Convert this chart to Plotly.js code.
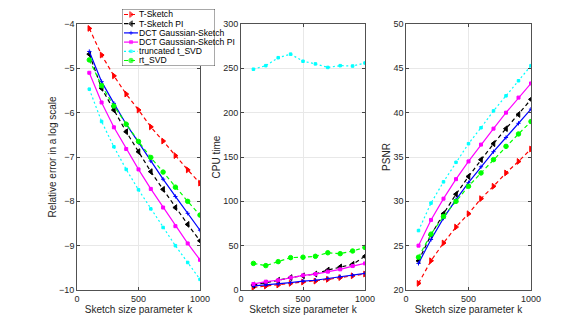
<!DOCTYPE html>
<html><head><meta charset="utf-8">
<script src="https://cdn.plot.ly/plotly-3.0.1.min.js"></script>
<style>html,body{margin:0;padding:0;background:#fff}#chart{width:587px;height:326px}</style>
</head><body><div id="chart"></div>
<script>
const k = [100,200,300,400,500,600,700,800,900,1000];
const seriesNames = ["T-Sketch","T-Sketch PI","DCT Gaussian-Sketch","DCT Gaussian-Sketch PI","truncated t_SVD","rt_SVD"];

// Panel 1: relative error (log scale)
const errTSketch   = [-4.10,-4.70,-5.17,-5.58,-5.94,-6.32,-6.64,-6.97,-7.29,-7.59];
const errTSketchPI = [-4.68,-5.45,-5.94,-6.43,-6.88,-7.33,-7.73,-8.14,-8.52,-8.89];
const errDCT       = [-4.62,-5.30,-5.79,-6.26,-6.67,-7.09,-7.50,-7.89,-8.27,-8.65];
const errDCTPI     = [-5.10,-5.77,-6.33,-6.82,-7.28,-7.72,-8.14,-8.56,-8.95,-9.32];
const errTSVD      = [-5.47,-6.20,-6.77,-7.28,-7.74,-8.17,-8.59,-9.00,-9.38,-9.76];
const errRtSVD     = [-4.81,-5.39,-5.85,-6.26,-6.65,-7.01,-7.34,-7.68,-8.00,-8.31];

// Panel 2: CPU time
const cpuTSketch   = [3.0,4.5,5.6,7.5,9.0,10.0,12.0,14.0,16.0,18.0];
const cpuTSketchPI = [5.6,8.0,11.0,14.0,16.0,18.0,22.5,26.0,29.0,38.0];
const cpuDCT       = [4.5,5.6,6.8,8.3,10.0,11.0,13.0,15.0,16.5,18.8];
const cpuDCTPI     = [6.8,9.4,11.0,14.0,16.5,18.0,20.7,23.3,27.0,30.0];
const cpuTSVD      = [249,253,262,266,258,255,251,253,252.6,256];
const cpuRtSVD     = [30,27.5,32,36.5,37,38,42,41,44,48];

// Panel 3: PSNR
const psnrTSketch   = [20.75,23.3,25.3,27.1,28.6,30.3,31.7,33.2,34.5,35.9];
const psnrTSketchPI = [23.3,26.2,28.6,30.8,32.8,34.7,36.5,38.2,39.8,41.5];
const psnrDCT       = [23.0,25.7,28.1,30.2,32.1,33.9,35.6,37.2,38.8,40.4];
const psnrDCTPI     = [25.0,27.9,30.3,32.5,34.5,36.4,38.2,40.0,41.7,43.3];
const psnrTSVD      = [26.7,29.8,32.2,34.4,36.5,38.3,40.2,41.9,43.6,45.3];
const psnrRtSVD     = [23.7,26.3,28.3,30.0,31.7,33.2,34.7,36.2,37.6,39.0];

const styles = [
  {color:"#ff0000", dash:"4px,3px", symbol:"triangle-right", size:5},
  {color:"#000000", dash:"4px,3px", symbol:"triangle-left", size:5},
  {color:"#0000ff", dash:"solid", symbol:"cross-thin-open", size:3},
  {color:"#ff00ff", dash:"solid", symbol:"square", size:3},
  {color:"#00ffff", dash:"2px,2.5px", symbol:"square", size:2.5},
  {color:"#00ff00", dash:"4px,3px", symbol:"circle", size:4.5}
];
const panels = [
  [errTSketch,errTSketchPI,errDCT,errDCTPI,errTSVD,errRtSVD],
  [cpuTSketch,cpuTSketchPI,cpuDCT,cpuDCTPI,cpuTSVD,cpuRtSVD],
  [psnrTSketch,psnrTSketchPI,psnrDCT,psnrDCTPI,psnrTSVD,psnrRtSVD]
];
const traces = [];
panels.forEach((p, pi) => {
  p.forEach((ys, si) => {
    const s = styles[si];
    traces.push({
      x: k, y: ys, type: "scatter", mode: "lines+markers", showlegend: false,
      name: seriesNames[si],
      xaxis: pi === 0 ? "x" : "x" + (pi+1), yaxis: pi === 0 ? "y" : "y" + (pi+1),
      line: {color: s.color, width: 1.2, dash: s.dash},
      marker: {color: s.color, symbol: s.symbol, size: s.size, line:{color:s.color, width:1}}
    });
  });
});

// Manual compact legend (MATLAB-style) on a hidden pixel-coordinate subplot
const W = 587, H = 326;
const LG = {l:122, r:215, t:9, b:66};
const rowStep = 9.2, rowTop = 5.5;
const annotations = [];
seriesNames.forEach((nm, si) => {
  const s = styles[si];
  const yy = rowTop + si * rowStep;
  traces.push({
    x: [2, 9, 16], y: [yy, yy, yy], type: "scatter", mode: "lines+markers", showlegend: false,
    xaxis: "x4", yaxis: "y4", hoverinfo: "skip",
    line: {color: s.color, width: 1.2, dash: s.dash},
    marker: {color: s.color, symbol: s.symbol, size: [0, s.size, 0], line:{color:s.color, width:1}}
  });
  annotations.push({xref:"x4", yref:"y4", x:15, y:yy, text:nm, showarrow:false,
    xanchor:"left", yanchor:"middle", font:{size:8.6, color:"#000"}});
});

const font = {family: "Liberation Sans, Arial, sans-serif", size: 9, color: "#262626"};
function xa(l, r) {
  return {domain:[l/W, r/W], range:[0,1000], tickvals:[0,500,1000], ticks:"inside", ticklen:3,
    showline:true, mirror:"ticks", linecolor:"#262626", linewidth:0.8, showgrid:true, gridcolor:"#e8e8e8",
    zeroline:false, tickfont:{size:9, color:"#262626"},
    title:{text:"Sketch size parameter k", font:{size:10, color:"#262626"}, standoff:1}};
}
function ya(range, dtick, anchor, title) {
  return {domain:[1-290/H, 1-24/H], range:range, dtick:dtick, tick0:range[0], ticks:"inside", ticklen:3,
    showline:true, mirror:"ticks", linecolor:"#262626", linewidth:0.8, showgrid:true, gridcolor:"#e8e8e8",
    zeroline:false, anchor:anchor, tickfont:{size:9, color:"#262626"},
    title:{text:title, font:{size:10, color:"#262626"}, standoff:0}};
}
const layout = {
  width: W, height: H, margin:{l:0, r:0, t:0, b:0}, font: font,
  paper_bgcolor:"#fff", plot_bgcolor:"rgba(0,0,0,0)", showlegend:false,
  xaxis: Object.assign(xa(77,200), {anchor:"y"}),
  xaxis2: Object.assign(xa(241,365), {anchor:"y2"}),
  xaxis3: Object.assign(xa(406,531), {anchor:"y3"}),
  yaxis: ya([-10,-4], 1, "x", "Relative error in a log scale"),
  yaxis2: ya([0,300], 50, "x2", "CPU time"),
  yaxis3: ya([20,50], 5, "x3", "PSNR"),
  xaxis4: {domain:[LG.l/W, LG.r/W], range:[0, LG.r-LG.l], visible:false, anchor:"y4", fixedrange:true},
  yaxis4: {domain:[1-LG.b/H, 1-LG.t/H], range:[LG.b-LG.t, 0], visible:false, anchor:"x4", fixedrange:true},
  shapes: [{type:"rect", xref:"x4", yref:"y4", x0:0, x1:LG.r-LG.l, y0:0, y1:LG.b-LG.t,
    fillcolor:"#ffffff", line:{color:"#262626", width:0.8}, layer:"below"}],
  annotations: annotations
};
Plotly.newPlot("chart", traces, layout, {staticPlot:true, displayModeBar:false});
</script></body></html>
